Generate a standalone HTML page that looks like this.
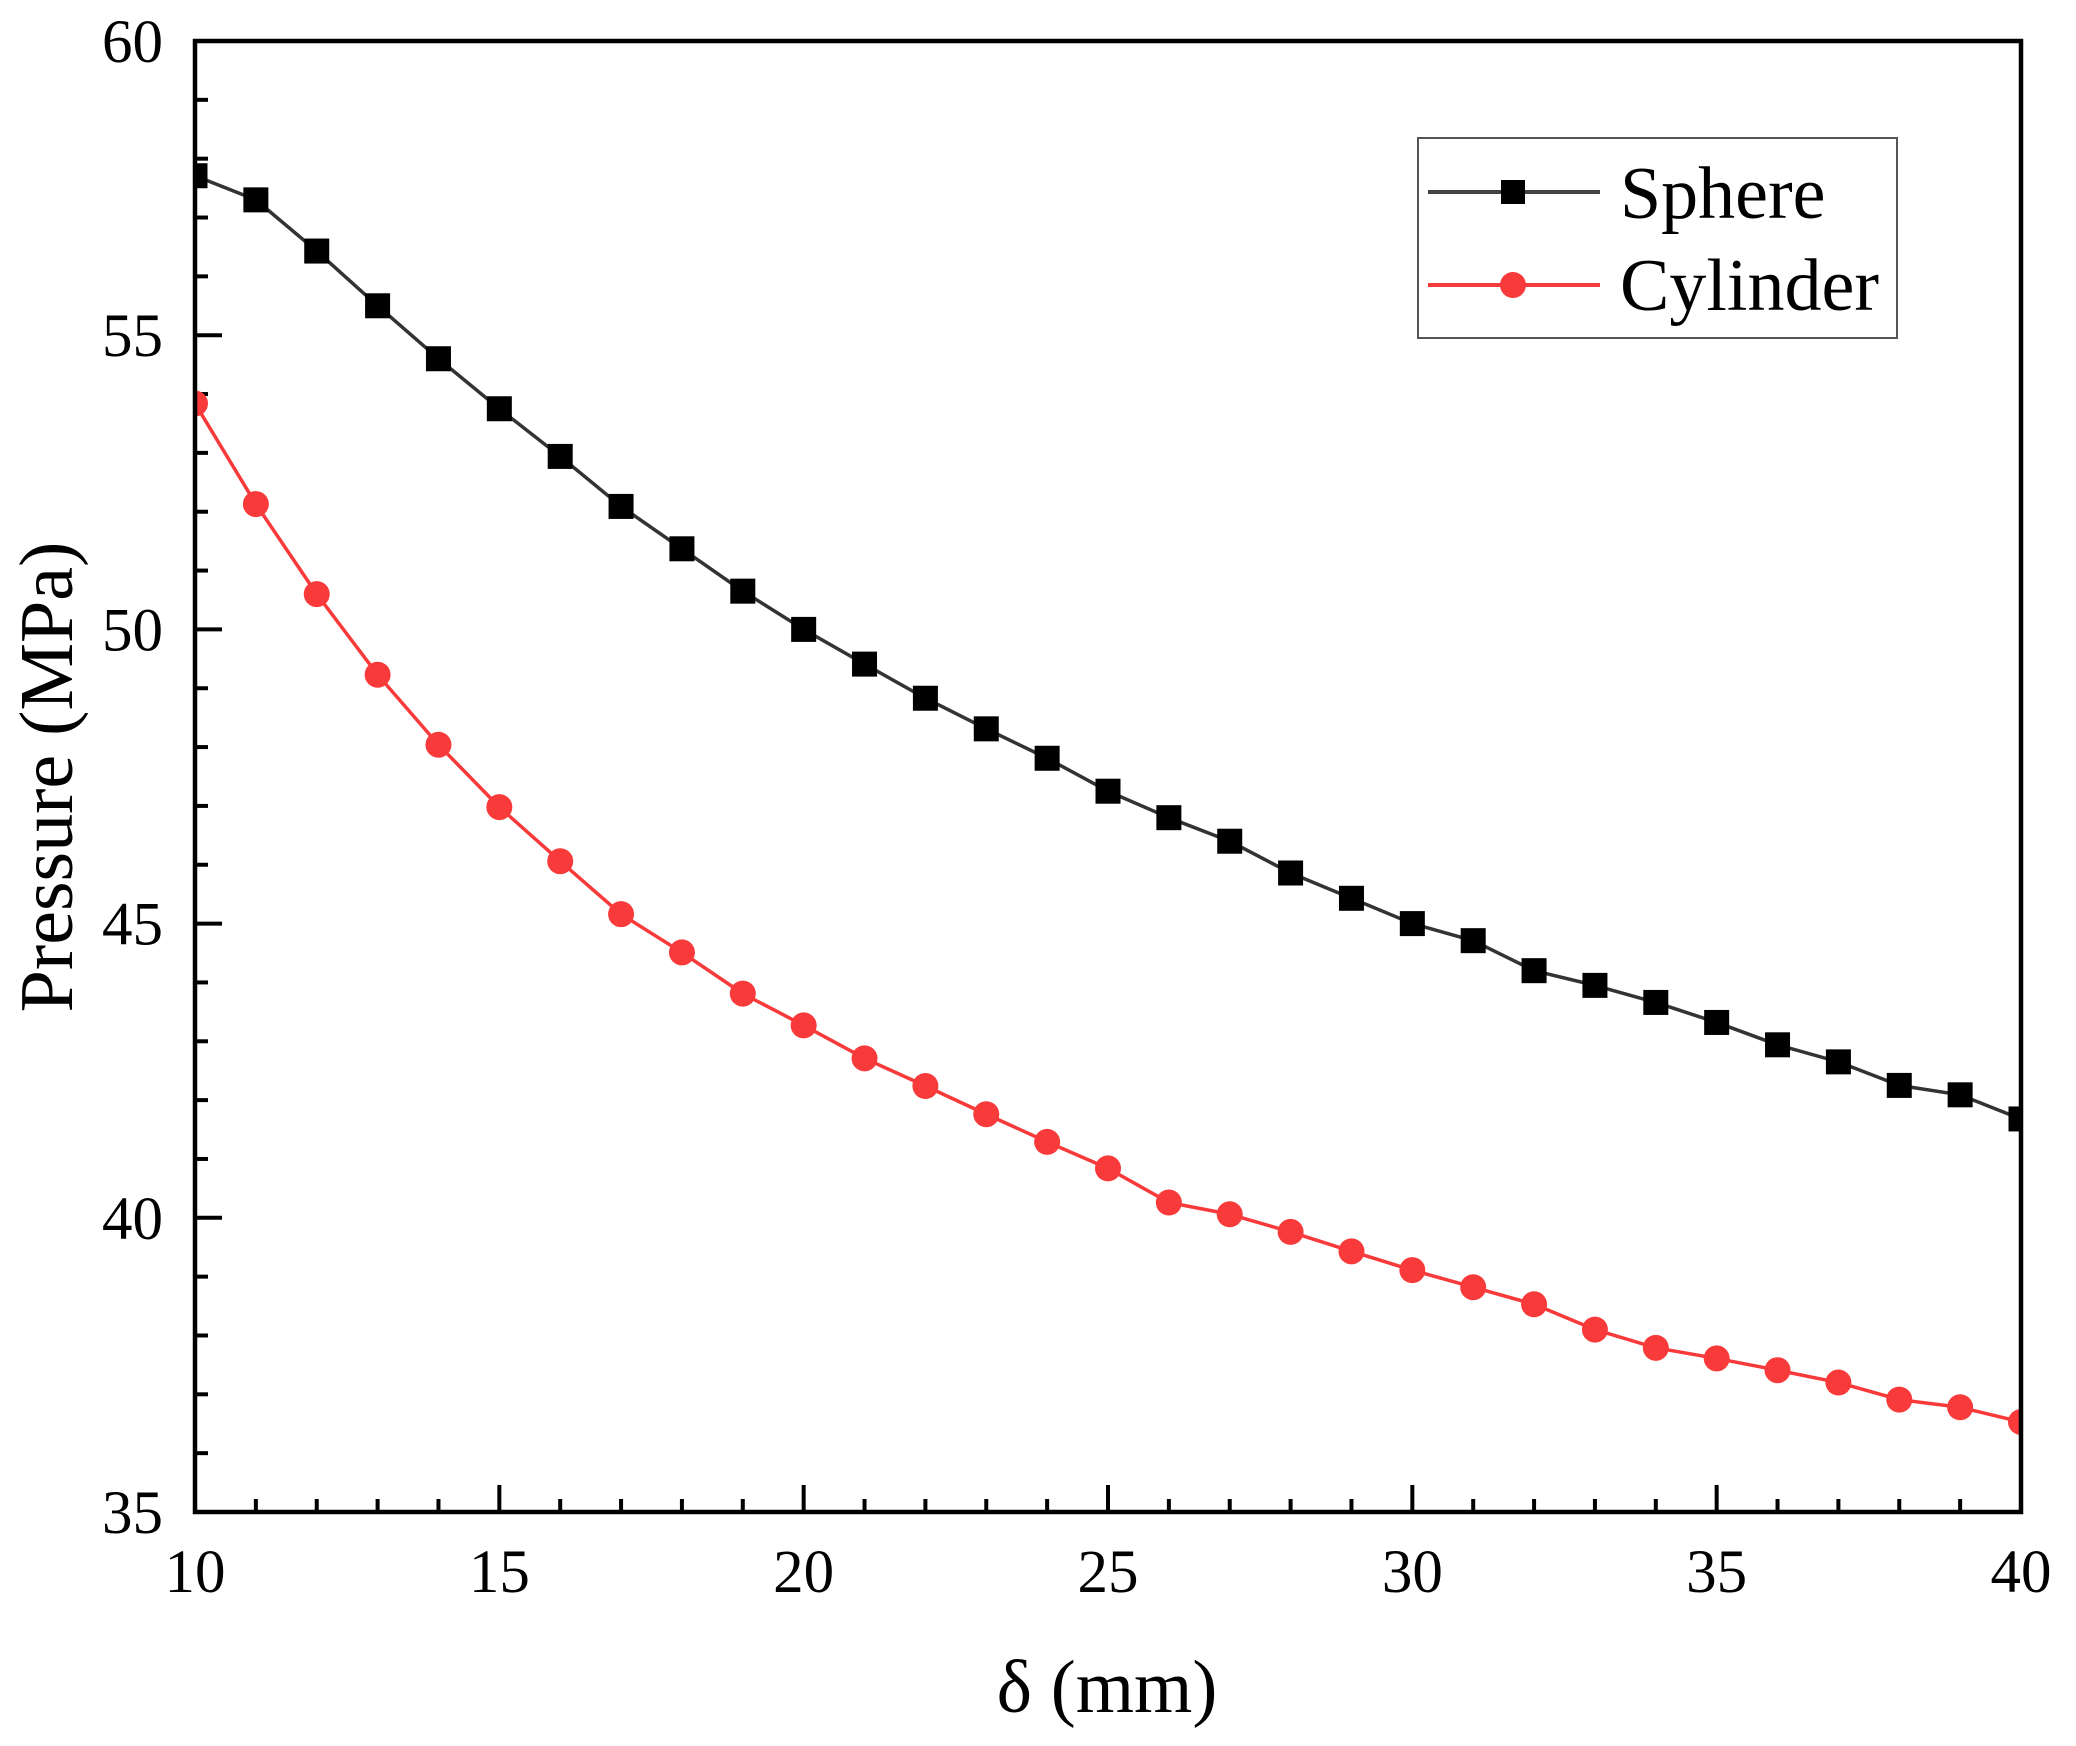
<!DOCTYPE html>
<html><head><meta charset="utf-8"><style>
html,body{margin:0;padding:0;background:#fff;}
svg{display:block;font-family:"Liberation Serif",serif;}
</style></head><body>
<svg id="chart" width="2076" height="1746" viewBox="0 0 2076 1746">
<g id="plot"></g>
</svg>
<script>
const xCats=[10,11,12,13,14,15,16,17,18,19,20,21,22,23,24,25,26,27,28,29,30,31,32,33,34,35,36,37,38,39,40];
const sphereVals=[57.71,57.30,56.43,55.50,54.60,53.75,52.94,52.09,51.37,50.65,50.00,49.41,48.83,48.31,47.81,47.25,46.80,46.40,45.86,45.43,45.00,44.71,44.20,43.95,43.66,43.32,42.94,42.65,42.25,42.09,41.68];
const cylinderVals=[53.84,52.13,50.60,49.23,48.04,46.98,46.06,45.16,44.51,43.81,43.27,42.71,42.24,41.76,41.29,40.84,40.26,40.06,39.76,39.43,39.11,38.82,38.53,38.10,37.79,37.61,37.41,37.20,36.91,36.78,36.53];
const xTicks=[10,15,20,25,30,35,40];
const yTicks=[35,40,45,50,55,60];

const L=195,R=2021,T=41,B=1512;
const X0=10,X1=40,Y0=35,Y1=60;
function sx(v){return L+(v-X0)/(X1-X0)*(R-L);}
function sy(v){return B-(v-Y0)/(Y1-Y0)*(B-T);}
const NS="http://www.w3.org/2000/svg";
const g=document.getElementById('plot');
function mk(tag,attrs,parent){const e=document.createElementNS(NS,tag);for(const k in attrs)e.setAttribute(k,attrs[k]);(parent||g).appendChild(e);return e;}

// minor/major ticks
for(let v=X0;v<=X1;v++){
  const major=xTicks.includes(v);
  const t=mk('line',{x1:sx(v),x2:sx(v),y1:B,y2:B-(major?27:13),stroke:'#000','stroke-width':4});
  
  
}
for(let v=Y0;v<=Y1;v++){
  const major=yTicks.includes(v);
  const t=mk('line',{x1:L,x2:L+(major?27:13),y1:sy(v),y2:sy(v),stroke:'#000','stroke-width':4});
  
  
}
xTicks.forEach(v=>{
  const t=mk('text',{x:sx(v),y:1592,'text-anchor':'middle','font-size':61,fill:'#000'});
  t.textContent=v;
  
  
});
yTicks.forEach(v=>{
  const t=mk('text',{x:163,y:sy(v)+21,'text-anchor':'end','font-size':61,fill:'#000'});
  t.textContent=v;
  
  
});

function series(vals,color,lineColor,shape,name){
  const pts=xCats.map((x,i)=>sx(x)+','+sy(vals[i])).join(' ');
  const pl=mk('polyline',{points:pts,fill:'none',stroke:lineColor,'stroke-width':3.5,'stroke-linejoin':'round'});
  
  
  xCats.forEach((x,i)=>{
    let m;
    if(shape==='square') m=mk('rect',{x:sx(x)-12.5,y:sy(vals[i])-12.5,width:25,height:25,fill:color});
    else m=mk('circle',{cx:sx(x),cy:sy(vals[i]),r:13,fill:color});
    
    
  });
}
series(sphereVals,'#000','#333','square','sphere');
series(cylinderVals,'#f83a3a','#f83a3a','circle','cylinder');

// frame on top
const fr=mk('rect',{x:L,y:T,width:R-L,height:B-T,fill:'none',stroke:'#000','stroke-width':4.5});


// cover markers overflowing left/right? (reference clips at axes)
</script>
<g></g>
<script>
(function(){
const NS="http://www.w3.org/2000/svg";
const svg=document.getElementById('chart');
function mk(tag,attrs,parent){const e=document.createElementNS(NS,tag);for(const k in attrs)e.setAttribute(k,attrs[k]);(parent||svg).appendChild(e);return e;}
// clip plot markers to plot area
const defs=mk('defs',{});
const cp=mk('clipPath',{id:'clip'},defs);
mk('rect',{x:195,y:41,width:1826,height:1471},cp);
document.getElementById('plot').querySelectorAll('rect[width="25"],circle,polyline').forEach(e=>e.setAttribute('clip-path','url(#clip)'));

const lg=mk('g',{});


const box=mk('rect',{x:1418,y:138,width:479,height:200,fill:'#fff',stroke:'#555','stroke-width':2},lg);


const l1=mk('line',{x1:1428,x2:1600,y1:192,y2:192,stroke:'#444','stroke-width':4},lg);


const m1=mk('rect',{x:1501,y:180,width:24,height:24,fill:'#000'},lg);


const t1=mk('text',{x:1620,y:218,'font-size':74,fill:'#000'},lg);
t1.textContent='Sphere';


const l2=mk('line',{x1:1428,x2:1600,y1:285,y2:285,stroke:'#f83a3a','stroke-width':4},lg);


const m2=mk('circle',{cx:1513,cy:285,r:13,fill:'#f83a3a'},lg);


const t2=mk('text',{x:1620,y:310,'font-size':74,fill:'#000'},lg);
t2.textContent='Cylinder';



const xt=mk('text',{x:1107,y:1712,'text-anchor':'middle','font-size':75,fill:'#000'});
xt.textContent='δ (mm)';


const yt=mk('text',{x:0,y:0,'text-anchor':'middle','font-size':76,fill:'#000',transform:'translate(72,777) rotate(-90)'});
yt.textContent='Pressure (MPa)';


})();
</script>
</body></html>
